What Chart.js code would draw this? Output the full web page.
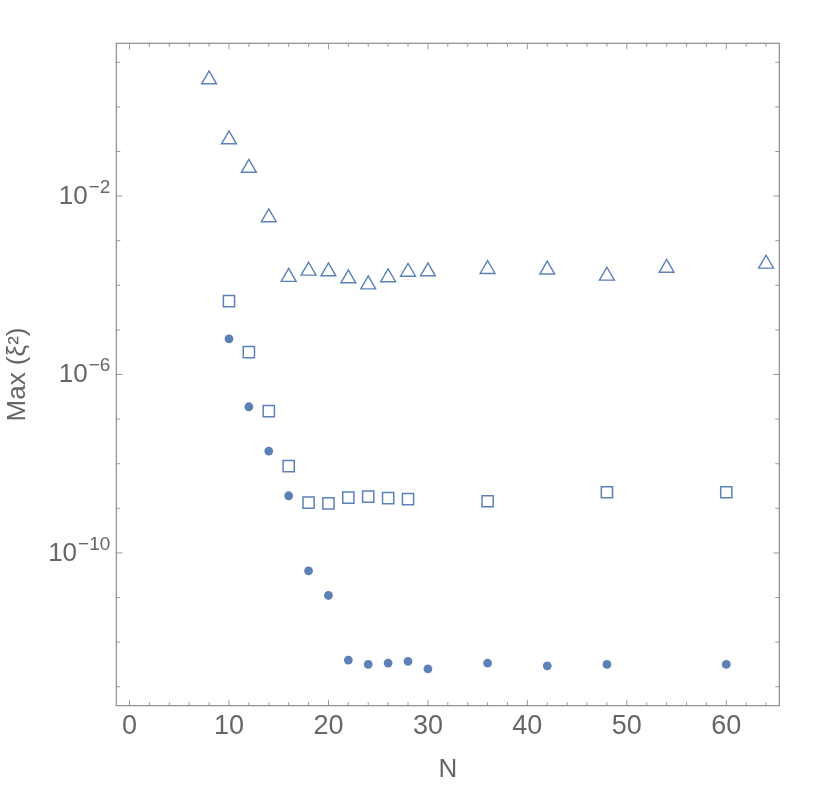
<!DOCTYPE html>
<html>
<head>
<meta charset="utf-8">
<script src="https://cdn.jsdelivr.net/npm/chart.js@4/dist/chart.umd.min.js"></script>
<style>
html,body{margin:0;padding:0;background:#fff;}
#wrap{width:830px;height:790px;}
</style>
</head>
<body>
<div id="wrap"><canvas id="c" width="830" height="790"></canvas></div>
<script>
// ---- data ----
const nTri = [8, 10, 12, 14, 16, 18, 20, 22, 24, 26, 28, 30, 36, 42, 48, 54, 64];
const triVals = [4.11, 0.186, 0.0427, 3.31e-3, 1.53e-4, 2.11e-4, 2.04e-4, 1.42e-4, 1.04e-4, 1.50e-4, 1.99e-4, 2.04e-4, 2.30e-4, 2.23e-4, 1.63e-4, 2.44e-4, 3.03e-4];

const nSq = [10, 12, 14, 16, 18, 20, 22, 24, 26, 28, 36, 48, 60];
const sqVals = [4.43e-5, 3.18e-6, 1.51e-7, 8.83e-9, 1.34e-9, 1.29e-9, 1.74e-9, 1.83e-9, 1.69e-9, 1.61e-9, 1.44e-9, 2.29e-9, 2.29e-9];

const nDot = [10, 12, 14, 16, 18, 20, 22, 24, 26, 28, 30, 36, 42, 48, 60];
const dotVals = [6.31e-6, 1.89e-7, 1.92e-8, 1.91e-9, 3.97e-11, 1.11e-11, 3.95e-13, 3.16e-13, 3.38e-13, 3.69e-13, 2.52e-13, 3.38e-13, 2.94e-13, 3.16e-13, 3.16e-13];

// ---- ticks ----
const xMajorTicks = [0, 10, 20, 30, 40, 50, 60];
const xMinorTicks = [2, 4, 6, 8, 12, 14, 16, 18, 22, 24, 26, 28, 32, 34, 36, 38, 42, 44, 46, 48, 52, 54, 56, 58, 62, 64];
const yMajorExps = [-2, -6, -10];
const yMinorExps = [1, 0, -1, -3, -4, -5, -7, -8, -9, -11, -12, -13];
const xRange = [-1.33, 65.33];
const yExpRange = [-13.426, 1.426];

const xTitle = 'N';
const yTitle = 'Max (ξ²)';

const BLUE = 'rgb(94,129,181)';
const LABEL = '#666666';
const FONT = "'Liberation Sans', Arial, 'DejaVu Sans', sans-serif";

const supMap = {'-':'⁻','0':'⁰','1':'¹','2':'²','3':'³','4':'⁴','5':'⁵','6':'⁶','7':'⁷','8':'⁸','9':'⁹'};
function sup(n){ return String(n).split('').map(c => supMap[c]).join(''); }

function pts(xs, ys){ return xs.map((x, i) => ({x: x, y: ys[i]})); }

const frameTicks = {
  id: 'frameTicks',
  afterDatasetsDraw(chart) {
    const {ctx, chartArea: a, scales} = chart;
    const xs = scales.x, ys = scales.y;
    ctx.save();
    ctx.strokeStyle = '#9a9a9a';
    ctx.lineWidth = 1;
    const drawX = (v, len) => {
      const px = xs.getPixelForValue(v);
      ctx.beginPath();
      ctx.moveTo(px, a.bottom); ctx.lineTo(px, a.bottom - len);
      ctx.moveTo(px, a.top); ctx.lineTo(px, a.top + len);
      ctx.stroke();
    };
    const drawY = (e, len) => {
      const py = ys.getPixelForValue(Math.pow(10, e));
      ctx.beginPath();
      ctx.moveTo(a.left, py); ctx.lineTo(a.left + len, py);
      ctx.moveTo(a.right, py); ctx.lineTo(a.right - len, py);
      ctx.stroke();
    };
    xMajorTicks.forEach(v => drawX(v, 6));
    xMinorTicks.forEach(v => drawX(v, 3.5));
    yMajorExps.forEach(e => drawY(e, 6));
    yMinorExps.forEach(e => drawY(e, 4));
    ctx.strokeStyle = '#8c8c8c';
    ctx.lineWidth = 1.2;
    ctx.strokeRect(a.left, a.top, a.right - a.left, a.bottom - a.top);

    // y tick labels: base 10 with a raised exponent
    ctx.fillStyle = LABEL;
    ctx.textBaseline = 'middle';
    const xRight = a.left - 6;
    yMajorExps.forEach(e => {
      const py = ys.getPixelForValue(Math.pow(10, e));
      const expStr = '\u2212' + Math.abs(e);
      ctx.font = '19px ' + FONT;
      const ew = ctx.measureText(expStr).width;
      ctx.textAlign = 'left';
      ctx.fillText(expStr, xRight - ew, py - 8.5);
      ctx.font = '26px ' + FONT;
      ctx.textAlign = 'right';
      ctx.fillText('10', xRight - ew - 1, py + 0.5);
    });
    ctx.restore();
  }
};

new Chart(document.getElementById('c'), {
  type: 'scatter',
  data: {
    datasets: [
      {
        label: 'triangles',
        data: pts(nTri, triVals),
        pointStyle: 'triangle',
        pointRadius: 8.6,
        pointHoverRadius: 8.6,
        pointBackgroundColor: 'rgba(255,255,255,0)',
        pointBorderColor: BLUE,
        pointBorderWidth: 1.4,
        showLine: false
      },
      {
        label: 'squares',
        data: pts(nSq, sqVals),
        pointStyle: 'rect',
        pointRadius: 7.9,
        pointHoverRadius: 7.9,
        pointBackgroundColor: 'rgba(255,255,255,0)',
        pointBorderColor: BLUE,
        pointBorderWidth: 1.5,
        showLine: false
      },
      {
        label: 'dots',
        data: pts(nDot, dotVals),
        pointStyle: 'circle',
        pointRadius: 4.4,
        pointHoverRadius: 4.4,
        pointBackgroundColor: BLUE,
        pointBorderColor: BLUE,
        pointBorderWidth: 0,
        showLine: false
      }
    ]
  },
  options: {
    responsive: false,
    animation: false,
    events: [],
    layout: { padding: { top: 43.3, right: 50.7, bottom: 0, left: 0 } },
    plugins: { legend: { display: false }, tooltip: { enabled: false } },
    scales: {
      x: {
        type: 'linear',
        position: 'bottom',
        min: xRange[0],
        max: xRange[1],
        afterBuildTicks(scale) { scale.ticks = xMajorTicks.map(v => ({value: v})); },
        afterFit(scale) { scale.height = 790 - 705.7; },
        grid: { display: false, drawTicks: false },
        border: { display: false },
        ticks: {
          padding: 4.5,
          color: LABEL,
          font: { family: FONT, size: 27 },
          maxRotation: 0,
          autoSkip: false,
          callback: v => String(v)
        },
        title: {
          display: true,
          text: xTitle,
          color: LABEL,
          font: { family: FONT, size: 26 },
          padding: { top: 5, bottom: 5 }
        }
      },
      y: {
        type: 'logarithmic',
        position: 'left',
        min: Math.pow(10, yExpRange[0]),
        max: Math.pow(10, yExpRange[1]),
        afterBuildTicks(scale) { scale.ticks = yMajorExps.map(e => ({value: Math.pow(10, e)})); },
        afterFit(scale) { scale.width = 116.3; },
        grid: { display: false, drawTicks: false },
        border: { display: false },
        ticks: {
          display: false,
          autoSkip: false,
          callback: v => '10' + sup(Math.round(Math.log10(v)))
        },
        title: {
          display: true,
          text: yTitle,
          color: LABEL,
          font: { family: FONT, size: 26 },
          padding: { top: 2, bottom: 2 }
        }
      }
    }
  },
  plugins: [frameTicks]
});
</script>
</body>
</html>
